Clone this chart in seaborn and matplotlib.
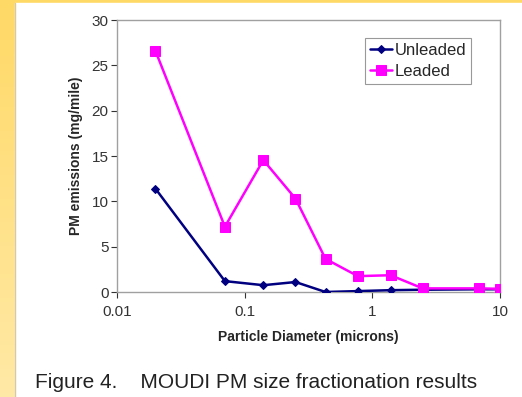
import numpy as np
import pandas as pd
import matplotlib
matplotlib.use("Agg")
import matplotlib.pyplot as plt
import seaborn as sns
from matplotlib.colors import LinearSegmentedColormap

diameter = [0.02, 0.07, 0.14, 0.25, 0.43, 0.77, 1.39, 2.48, 6.9, 10.0]
unleaded = [11.4, 1.2, 0.75, 1.1, 0.0, 0.1, 0.2, 0.25, 0.3, 0.3]
leaded = [26.6, 7.2, 14.55, 10.3, 3.65, 1.75, 1.85, 0.4, 0.4, 0.35]
series_names = ["Unleaded", "Leaded"]
series_colors = ["#000080", "#FF00FF"]
series_markers = ["D", "s"]

df = pd.concat([
    pd.DataFrame({"d": diameter, "v": unleaded, "s": series_names[0]}),
    pd.DataFrame({"d": diameter, "v": leaded, "s": series_names[1]}),
])

sns.set_theme(style="white")
plt.rcParams["font.family"] = ["Liberation Sans", "DejaVu Sans"]

fig = plt.figure(figsize=(5.22, 3.97), dpi=100)
fig.patch.set_facecolor("white")

# background yellow frame (gradient)
bg = fig.add_axes([0, 0, 1, 1], zorder=-10)
grad = np.linspace(0, 1, 100).reshape(-1, 1)
cmap = LinearSegmentedColormap.from_list("y", ["#FFE9A6", "#FFD966"])
bg.imshow(grad, cmap=cmap, aspect="auto", extent=[0, 1, 0, 1], origin="lower")
bg.add_patch(plt.Rectangle((15 / 522, 0), 1, 1 - 3 / 397, color="white", zorder=2))
bg.plot([14.5 / 522, 14.5 / 522], [0, 1 - 3 / 397], color="#D9C9A0", lw=1, zorder=3)
bg.set_xlim(0, 1)
bg.set_ylim(0, 1)
bg.axis("off")

ax = fig.add_axes([117 / 522, 1 - 292 / 397, (500 - 117) / 522, (292 - 20) / 397])
ax.set_facecolor("white")
for i, name in enumerate(series_names):
    sub = df[df["s"] == name]
    sns.lineplot(data=sub, x="d", y="v", ax=ax, color=series_colors[i],
                 marker=series_markers[i], markersize=4.5 if i == 0 else 6.5,
                 markeredgecolor=series_colors[i], lw=1.8, label=name,
                 zorder=3 + i)
ax.set_xscale("log")
ax.set_xlim(0.01, 10)
ax.set_ylim(0, 30)
ax.set_yticks(range(0, 31, 5))
ax.set_xticks([0.01, 0.1, 1, 10])
ax.set_xticklabels(["0.01", "0.1", "1", "10"])
ax.minorticks_off()
ax.tick_params(axis="both", labelsize=11, colors="#333333", length=4, width=0.8,
               direction="out", left=True, bottom=True, pad=2)
ax.tick_params(axis="x", pad=5)
for sp in ax.spines.values():
    sp.set_color("#A0A0A0")
    sp.set_linewidth(1)
ax.set_xlabel("Particle Diameter (microns)", fontsize=10, fontweight="bold", labelpad=8)
ax.set_ylabel("PM emissions (mg/mile)", fontsize=10, fontweight="bold", labelpad=6)
leg = ax.legend(loc="upper right", bbox_to_anchor=(0.925, 0.935), fontsize=12,
                frameon=True, fancybox=False, handlelength=1.3, handletextpad=0.15,
                borderpad=0.3, labelspacing=0.35, borderaxespad=0)
leg.get_frame().set_edgecolor("#808080")
leg.get_frame().set_linewidth(0.8)

fig.text(35 / 522, 1 - 383 / 397, "Figure 4.    MOUDI PM size fractionation results",
         fontsize=15, color="#222222", va="center", ha="left")

fig.savefig("out.png", dpi=100)
